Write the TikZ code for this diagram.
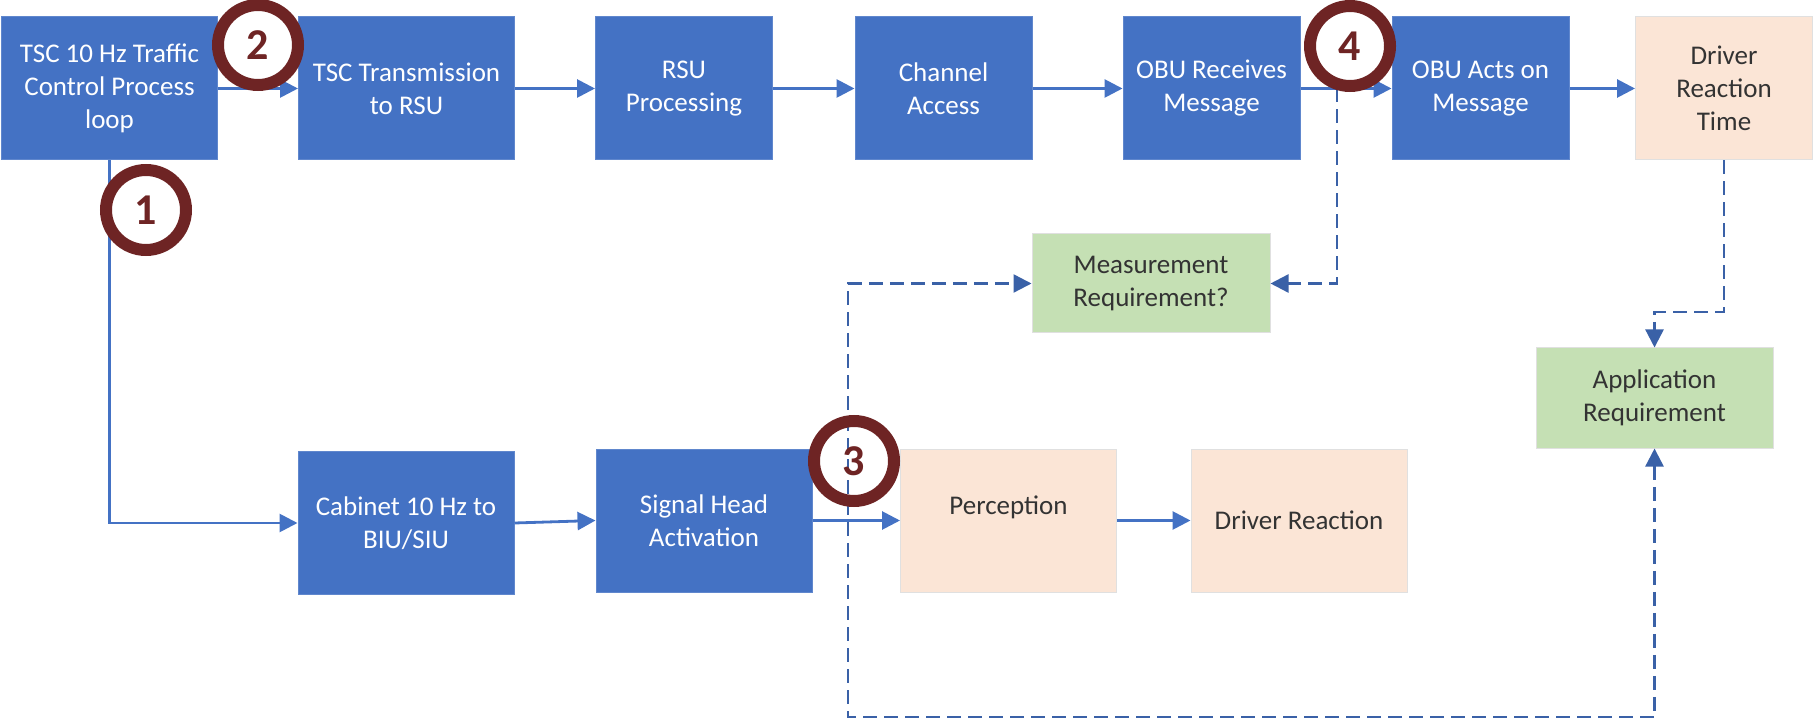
\documentclass[tikz,border=0pt]{standalone}
\usepackage{fontspec}
\setmainfont{Carlito}
\usetikzlibrary{arrows.meta}
\definecolor{boxblue}{HTML}{4472C4}
\definecolor{peach}{HTML}{FBE5D6}
\definecolor{paleg}{HTML}{C5E0B4}
\definecolor{maroon}{HTML}{6E2424}
\begin{document}
\begin{tikzpicture}[x=0.5pt,y=-0.5pt,>={Triangle[length=9pt,width=9pt]},
  blk/.style={rectangle,fill=boxblue,draw=boxblue!85!white,line width=0.5pt,text=white,align=center,
    inner sep=0pt,font=\fontsize{13.5}{16.5}\selectfont},
  tan/.style={blk,fill=peach,draw=black!12,text=black!80},
  grn/.style={blk,fill=paleg,draw=black!12,text=black!80},
  wide/.style={minimum width=108pt,minimum height=71.5pt},
  slim/.style={minimum width=88.5pt,minimum height=71.5pt},
  num/.style={circle,draw=maroon,line width=6pt,minimum size=40pt,inner sep=0pt,text=maroon,
    font=\fontsize{22}{22}\selectfont\bfseries},
  flow/.style={->,draw=boxblue,line width=1.4pt},
  fb/.style={flow,draw=boxblue!85!black,line width=1.2pt,dash pattern=on 7pt off 3.5pt}]
\useasboundingbox (0,0) rectangle (1814,721);

% top row
\node[blk,wide] (tsc) at (109.5,88.5) {TSC 10 Hz Traffic\\Control Process\\loop};
\node[blk,wide] (xmit) at (406.5,88.5) {TSC Transmission\\to RSU};
\node[blk,slim] (rsu) at (684,88.5) {RSU\\Processing};
\node[blk,slim] (chan) at (943.5,88.5) {Channel\\Access};
\node[blk,slim] (obur) at (1211.5,88.5) {OBU Receives\\Message};
\node[blk,slim] (obua) at (1480.5,88.5) {OBU Acts on\\Message};
\node[tan,slim] (drt) at (1724,88.5) {Driver\\Reaction\\Time};

% bottom row
\node[blk,wide] (cab) at (406,523) {Cabinet 10 Hz to\\BIU/SIU};
\node[blk,wide] (sig) at (704,520.5) {Signal Head\\Activation};
\node[tan,wide] (perc) at (1008.5,520.5) {\raisebox{15.5pt}{Perception}};
\node[tan,wide] (drv) at (1299,520.5) {Driver Reaction};

% requirements
\node[grn,minimum width=119pt,minimum height=49.5pt] (meas) at (1151,283.5) {Measurement\\Requirement?};
\node[grn,minimum width=118.5pt,minimum height=50pt] (app) at (1654.5,398) {Application\\Requirement};

% solid flow
\draw[flow] (tsc) -- (xmit);
\draw[flow] (xmit) -- (rsu);
\draw[flow] (rsu) -- (chan);
\draw[flow] (chan) -- (obur);
\draw[flow] (obur) -- (obua);
\draw[flow] (obua) -- (drt);
\draw[flow] (tsc.south) |- (cab.west);
\draw[flow] (cab.east) -- (sig.west);
\draw[flow] (sig) -- (perc);
\draw[flow] (perc) -- (drv);

% dashed feedback
\coordinate (tap) at (1337,88.5);
\coordinate (dk) at (1724,312);
\coordinate (lc) at (848,717);
\draw[fb] (tap) |- (meas.east);
\draw[fb] (drt.south) -- (dk) -| (app.north);
\draw[fb,<->] (app.south) |- (lc) |- (meas.west);

% markers
\node[num] (n1) at (146,210) {1};
\node[num] (n2) at (258,45) {2};
\node[num] (n3) at (854,461) {3};
\node[num] (n4) at (1350,46) {4};
\end{tikzpicture}
\end{document}
